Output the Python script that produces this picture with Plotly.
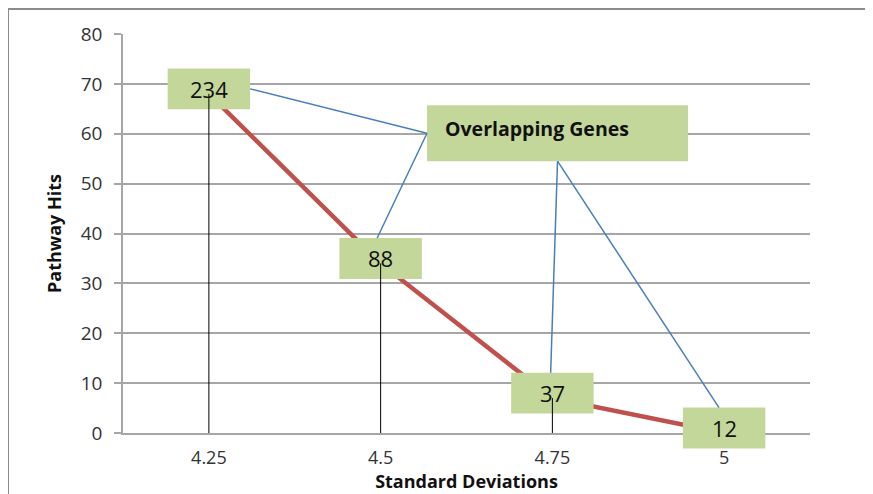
import plotly.graph_objects as go

# ---- data ----
categories = ["4.25", "4.5", "4.75", "5"]
pathway_hits = [68, 34, 7, 0]
gene_labels = ["234", "88", "37", "12"]
callout_text = "Overlapping Genes"

# ---- layout constants ----
Y_MAX = 80
N = len(categories)
BOX_HW = 0.24   # half width in category units
BOX_HH = 4.1    # half height in y units
BOX_DY = 1.0    # label centre offset above the point
FONT = "Open Sans"

# page body has an 8px default margin; compensate
W, H = 865, 486
ML, MT = 115, 26
PLOT_W, PLOT_H = 687, 399

def px(i):
    return (i + 0.5) / N

def py(v):
    return v / Y_MAX

fig = go.Figure()

fig.add_trace(go.Scatter(
    x=categories, y=pathway_hits, mode="lines",
    line=dict(color="#C0504D", width=4.5), hoverinfo="skip", showlegend=False))

shapes = []
annotations = []
box_centers = []
for i, v in enumerate(pathway_hits):
    cy = v + BOX_DY
    box_centers.append((i, cy))
    shapes.append(dict(type="rect", xref="paper", yref="paper",
                       x0=px(i - BOX_HW), x1=px(i + BOX_HW),
                       y0=py(cy - BOX_HH), y1=py(cy + BOX_HH),
                       fillcolor="#C4D79B", line=dict(width=0), layer="above"))
for i, v in enumerate(pathway_hits):
    if v > 0:
        shapes.append(dict(type="line", xref="paper", yref="paper",
                           x0=px(i), x1=px(i), y0=py(0), y1=py(v),
                           line=dict(color="black", width=1), layer="above"))
for i, (v, lab) in enumerate(zip(pathway_hits, gene_labels)):
    annotations.append(dict(x=px(i), y=py(v + BOX_DY), xref="paper", yref="paper",
                            xanchor="center", yanchor="middle",
                            text=lab, showarrow=False,
                            font=dict(size=22, color="#111111", family=FONT)))

# callout box
cb_x0, cb_x1, cb_y0, cb_y1 = 1.27, 2.79, 54.5, 65.7
shapes.append(dict(type="rect", xref="paper", yref="paper",
                   x0=px(cb_x0), x1=px(cb_x1), y0=py(cb_y0), y1=py(cb_y1),
                   fillcolor="#C4D79B", line=dict(width=0), layer="above"))
annotations.append(dict(x=px(cb_x0 + 0.095), y=py(61.0), xref="paper", yref="paper",
                        text="<b>" + callout_text + "</b>", showarrow=False,
                        xanchor="left", yanchor="middle",
                        font=dict(size=19.5, color="#111111", family=FONT)))

# callout connector lines
left_vertex = (cb_x0, 60.1)
bottom_vertex = (2.03, cb_y0)
targets = [
    (left_vertex, (box_centers[0][0] + BOX_HW, box_centers[0][1])),
    (left_vertex, (box_centers[1][0] - 0.02, box_centers[1][1] + BOX_HH)),
    (bottom_vertex, (box_centers[2][0] - 0.01, box_centers[2][1] + BOX_HH)),
    (bottom_vertex, (box_centers[3][0] - 0.03, box_centers[3][1] + BOX_HH)),
]
for (a, b) in targets:
    shapes.append(dict(type="line", xref="paper", yref="paper",
                       x0=px(a[0]), y0=py(a[1]), x1=px(b[0]), y1=py(b[1]),
                       line=dict(color="#4A7EBB", width=1.5), layer="above"))

# outer frame
shapes.append(dict(type="rect", xref="paper", yref="paper",
                   x0=-0.1674, x1=1.0815, y0=-0.3, y1=1.0627,
                   line=dict(color="#8C8C8C", width=2), fillcolor="rgba(0,0,0,0)",
                   layer="below"))

fig.update_layout(
    width=W, height=H,
    margin=dict(l=ML, r=W - ML - PLOT_W, t=MT, b=H - MT - PLOT_H),
    paper_bgcolor="white", plot_bgcolor="white",
    font=dict(family=FONT, size=19, color="#333333"),
    shapes=shapes, annotations=annotations,
    showlegend=False,
    xaxis=dict(
        type="category", categoryorder="array", categoryarray=categories,
        range=[-0.5, N - 0.5], automargin=False,
        showgrid=False, showline=True, linecolor="#A6A6A6", linewidth=1.5,
        ticks="", ticklabelstandoff=8, zeroline=False,
        tickfont=dict(size=18, color="#333333"),
        title=dict(text="<b>Standard Deviations</b>", standoff=3,
                   font=dict(size=18, color="#111111", family=FONT)),
    ),
    yaxis=dict(
        range=[0, Y_MAX], dtick=10, tick0=0, automargin=False,
        showgrid=True, gridcolor="#A6A6A6", gridwidth=1.5,
        showline=True, linecolor="#A6A6A6", linewidth=1.5,
        ticks="outside", ticklen=7, tickcolor="#A6A6A6", tickwidth=1.5,
        ticklabelstandoff=8, zeroline=False,
        tickfont=dict(size=19, color="#333333"),
        title=dict(text="<b>Pathway Hits</b>", standoff=14,
                   font=dict(size=18, color="#111111", family=FONT)),
    ),
)

fig.write_html("out.html")
